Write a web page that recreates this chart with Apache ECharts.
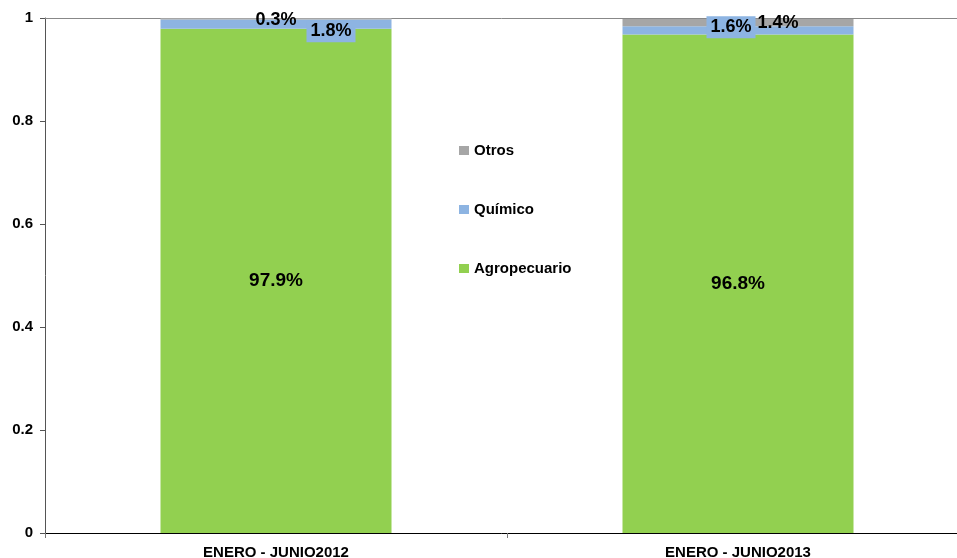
<!DOCTYPE html>
<html><head><meta charset="utf-8">
<script src="https://cdn.jsdelivr.net/npm/echarts@6/dist/echarts.min.js"></script>
<style>html,body{margin:0;padding:0;background:#fff}#c{width:957px;height:558px}</style>
</head><body><div id="c"></div>
<script>
const categories = ['ENERO - JUNIO2012', 'ENERO - JUNIO2013'];
const agropecuario = [0.979, 0.968];
const quimico = [0.018, 0.016];
const otros = [0.003, 0.014];
const yTicks = [0, 0.2, 0.4, 0.6, 0.8, 1];

const F = 'Liberation Sans, Arial, sans-serif';
const chart = echarts.init(document.getElementById('c'));
const pct = v => (v * 100).toFixed(1) + '%';
const lblBase = {show: true, fontFamily: F, fontWeight: 'bold', fontSize: 18, color: '#000'};

chart.setOption({
  animation: false,
  grid: {left: 45, top: 18, width: 924, height: 515, outerBoundsMode: 'none', containLabel: false},
  legend: {
    orient: 'vertical', left: 454, top: 138, itemGap: 44,
    itemWidth: 10, itemHeight: 9, icon: 'rect',
    data: ['Otros', 'Químico', 'Agropecuario'],
    textStyle: {fontFamily: F, fontWeight: 'bold', fontSize: 15, color: '#000'}
  },
  xAxis: [{
    type: 'category', data: categories,
    axisLine: {lineStyle: {color: '#000'}},
    axisTick: {show: true, alignWithLabel: false, length: 5, lineStyle: {color: '#777'}},
    axisLabel: {fontFamily: F, fontWeight: 'bold', fontSize: 15, color: '#000', margin: 12}
  }, {
    type: 'category', data: categories, position: 'top',
    axisLine: {show: true, lineStyle: {color: '#888'}},
    axisTick: {show: false}, axisLabel: {show: false}
  }],
  yAxis: {
    type: 'value', min: 0, max: 1, interval: 0.2,
    splitLine: {show: false},
    axisLine: {show: true, lineStyle: {color: '#555'}},
    axisTick: {show: true, length: 5, lineStyle: {color: '#555'}},
    axisLabel: {fontFamily: F, fontWeight: 'bold', fontSize: 15, color: '#000', margin: 12,
      formatter: v => yTicks.includes(+v.toFixed(1)) ? (v === 0 ? '0' : v === 1 ? '1' : v.toFixed(1)) : ''}
  },
  series: [
    {
      name: 'Agropecuario', type: 'bar', stack: 's', barWidth: '50%',
      itemStyle: {color: '#92D050'},
      label: Object.assign({}, lblBase, {fontSize: 19, position: 'inside', formatter: p => pct(p.value)}),
      data: agropecuario
    },
    {
      name: 'Químico', type: 'bar', stack: 's',
      itemStyle: {color: '#8DB4E2'},
      data: quimico.map((v, i) => ({
        value: v,
        label: Object.assign({}, lblBase, {
          position: 'inside', formatter: p => pct(p.value),
          backgroundColor: '#8DB4E2', padding: [3, 4, 1, 4],
          offset: i === 0 ? [55, 7] : [-7, -3]
        })
      }))
    },
    {
      name: 'Otros', type: 'bar', stack: 's',
      itemStyle: {color: '#A6A6A6'},
      data: otros.map((v, i) => ({
        value: v,
        label: Object.assign({}, lblBase, {
          position: 'inside', formatter: p => pct(p.value),
          offset: i === 0 ? [0, 1] : [40, 0]
        })
      }))
    }
  ]
});
</script></body></html>
